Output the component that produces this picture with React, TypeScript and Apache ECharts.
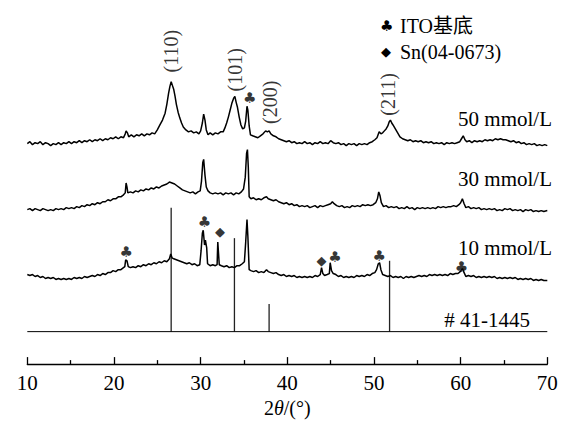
import React, { useEffect, useRef } from "react";
import * as echarts from "echarts";

// 2θ (deg) and relative intensity (offset traces, arbitrary units)
const curve50: number[][] = [[10.0,224],[10.3,226],[10.6,223],[10.9,225],[11.2,224],[11.5,226],[11.8,223],[12.1,225],[12.4,224],[12.7,222],[13.0,224],[13.3,223],[13.6,225],[13.9,223],[14.2,225],[14.5,224],[14.8,226],[15.1,224],[15.4,226],[15.7,225],[16.0,227],[16.3,225],[16.6,227],[16.9,226],[17.2,228],[17.5,226],[17.8,228],[18.1,227],[18.4,229],[18.7,227],[19.0,229],[19.3,228],[19.6,230],[19.9,229],[20.2,231],[20.5,229],[20.8,231],[21.1,230],[21.3,234],[21.4,237],[21.55,235],[21.7,231],[22.0,233],[22.3,231],[22.6,233],[22.9,232],[23.2,234],[23.5,232],[23.8,234],[24.1,233],[24.4,235],[24.7,234],[25.0,238],[25.3,243],[25.6,248],[25.9,255],[26.1,264],[26.3,275],[26.45,282],[26.6,287],[26.75,283],[26.9,279],[27.05,272],[27.2,264],[27.4,256],[27.6,250],[27.8,245],[28.0,241],[28.3,238],[28.6,236],[28.9,237],[29.2,235],[29.5,236],[29.8,234],[30.0,237],[30.2,245],[30.35,254],[30.5,248],[30.65,238],[30.85,233],[31.1,235],[31.4,233],[31.7,235],[32.0,234],[32.3,236],[32.6,236],[32.8,240],[33.0,245],[33.2,251],[33.4,258],[33.6,265],[33.8,270],[33.95,272],[34.1,266],[34.25,261],[34.45,251],[34.65,243],[34.85,239],[35.05,240],[35.2,247],[35.35,262],[35.45,258],[35.6,242],[35.75,233],[36.0,232],[36.3,231],[36.6,230],[36.9,232],[37.2,234],[37.5,237],[37.7,236],[37.9,237],[38.1,234],[38.4,232],[38.7,231],[39.0,229],[39.3,228],[39.6,227],[39.9,226],[40.2,227],[40.5,225],[40.8,226],[41.1,224],[41.4,225],[41.7,224],[42.0,226],[42.3,224],[42.6,225],[42.9,223],[43.2,225],[43.5,224],[43.8,226],[44.1,224],[44.4,225],[44.7,224],[45.0,227],[45.3,225],[45.6,224],[45.9,225],[46.2,223],[46.5,224],[46.8,222],[47.1,224],[47.4,223],[47.7,224],[48.0,222],[48.3,224],[48.6,223],[48.9,224],[49.2,223],[49.5,225],[49.8,226],[50.1,228],[50.35,230],[50.6,236],[50.8,234],[51.0,235],[51.2,237],[51.4,239],[51.6,242],[51.75,246],[51.9,248],[52.05,245],[52.2,243],[52.4,240],[52.6,237],[52.8,234],[53.0,231],[53.3,229],[53.6,228],[53.9,227],[54.2,228],[54.5,226],[54.8,227],[55.1,226],[55.4,227],[55.7,225],[56.0,226],[56.3,225],[56.6,226],[56.9,224],[57.2,225],[57.5,224],[57.8,225],[58.1,223],[58.4,225],[58.7,224],[59.0,225],[59.3,224],[59.6,225],[59.9,226],[60.1,229],[60.3,232],[60.5,228],[60.7,226],[61.0,227],[61.3,225],[61.6,227],[61.9,226],[62.2,227],[62.5,226],[62.8,228],[63.1,227],[63.4,228],[63.7,227],[64.0,229],[64.3,228],[64.6,229],[64.9,228],[65.2,228],[65.5,227],[65.8,226],[66.1,227],[66.4,225],[66.7,226],[67.0,224],[67.3,225],[67.6,223],[67.9,224],[68.2,223],[68.5,224],[68.8,222],[69.1,223],[69.4,222],[69.7,223],[70.0,222]];

const curve30: number[][] = [[10.0,157],[10.3,158],[10.6,156],[10.9,158],[11.2,157],[11.5,156],[11.8,158],[12.1,157],[12.4,156],[12.7,157],[13.0,156],[13.3,158],[13.6,157],[13.9,158],[14.2,157],[14.5,159],[14.8,158],[15.1,159],[15.4,158],[15.7,160],[16.0,159],[16.3,161],[16.6,160],[16.9,162],[17.2,161],[17.5,163],[17.8,162],[18.1,164],[18.4,163],[18.7,165],[19.0,165],[19.3,167],[19.6,166],[19.9,168],[20.2,168],[20.5,170],[20.8,170],[21.1,172],[21.3,174],[21.4,184],[21.5,180],[21.6,174],[21.9,175],[22.2,174],[22.5,176],[22.8,175],[23.1,177],[23.4,176],[23.7,178],[24.0,177],[24.3,179],[24.6,178],[24.9,180],[25.2,179],[25.5,181],[25.8,182],[26.1,183],[26.4,185],[26.7,184],[27.0,183],[27.3,181],[27.6,179],[27.9,177],[28.2,176],[28.5,175],[28.8,174],[29.1,175],[29.4,173],[29.7,175],[29.95,176],[30.1,186],[30.25,205],[30.35,208],[30.5,192],[30.65,180],[30.85,176],[31.1,174],[31.4,173],[31.7,174],[32.0,173],[32.3,174],[32.6,172],[32.9,174],[33.2,173],[33.5,174],[33.8,172],[34.1,174],[34.4,173],[34.7,175],[34.95,178],[35.15,190],[35.3,214],[35.4,218],[35.5,200],[35.6,170],[35.8,168],[36.1,169],[36.4,167],[36.7,168],[37.0,167],[37.3,169],[37.6,170],[37.8,168],[38.1,167],[38.4,166],[38.7,167],[39.0,165],[39.3,164],[39.6,163],[39.9,164],[40.2,162],[40.5,163],[40.8,161],[41.1,162],[41.4,160],[41.7,161],[42.0,160],[42.3,161],[42.6,159],[42.9,160],[43.2,161],[43.5,159],[43.8,161],[44.1,160],[44.4,161],[44.7,162],[45.0,163],[45.2,165],[45.4,163],[45.7,161],[46.0,160],[46.3,161],[46.6,159],[46.9,160],[47.2,159],[47.5,161],[47.8,160],[48.1,161],[48.4,160],[48.7,162],[49.0,161],[49.3,162],[49.6,161],[49.9,162],[50.2,164],[50.4,168],[50.55,175],[50.7,171],[50.85,164],[51.1,160],[51.4,161],[51.7,159],[52.0,160],[52.3,159],[52.6,160],[52.9,158],[53.2,159],[53.5,158],[53.8,160],[54.1,158],[54.4,159],[54.7,157],[55.0,159],[55.3,158],[55.6,159],[55.9,158],[56.2,159],[56.5,158],[56.8,159],[57.1,158],[57.4,160],[57.7,159],[58.0,160],[58.3,159],[58.6,160],[58.9,160],[59.2,161],[59.5,160],[59.8,162],[60.0,164],[60.2,168],[60.4,163],[60.6,159],[60.9,160],[61.2,158],[61.5,159],[61.8,158],[62.1,159],[62.4,157],[62.7,158],[63.0,157],[63.3,158],[63.6,157],[63.9,158],[64.2,156],[64.5,157],[64.8,156],[65.1,158],[65.4,157],[65.7,158],[66.0,156],[66.3,157],[66.6,156],[66.9,157],[67.2,155],[67.5,157],[67.8,156],[68.1,157],[68.4,155],[68.7,156],[69.0,155],[69.3,156],[69.6,155],[70.0,156]];

const curve10: number[][] = [[10.0,91],[10.3,90],[10.6,91],[10.9,89],[11.2,90],[11.5,88],[11.8,89],[12.1,87],[12.4,88],[12.7,87],[13.0,88],[13.3,86],[13.6,87],[13.9,86],[14.2,87],[14.5,86],[14.8,87],[15.1,86],[15.4,88],[15.7,87],[16.0,88],[16.3,87],[16.6,89],[16.9,88],[17.2,89],[17.5,90],[17.8,89],[18.1,91],[18.4,90],[18.7,92],[19.0,91],[19.3,93],[19.6,93],[19.9,95],[20.2,94],[20.5,96],[20.8,96],[21.1,98],[21.25,99],[21.35,106],[21.5,105],[21.65,99],[21.9,98],[22.2,99],[22.5,98],[22.8,100],[23.1,99],[23.4,101],[23.7,100],[24.0,102],[24.3,101],[24.6,103],[24.9,102],[25.2,104],[25.5,103],[25.8,105],[26.1,104],[26.4,107],[26.55,112],[26.7,108],[26.9,107],[27.2,106],[27.5,105],[27.8,104],[28.1,103],[28.4,102],[28.7,103],[29.0,101],[29.3,102],[29.6,100],[29.9,101],[30.05,115],[30.2,133],[30.3,136],[30.45,121],[30.55,126],[30.7,118],[30.8,102],[31.1,100],[31.4,101],[31.7,100],[31.9,101],[31.98,124],[32.05,124],[32.15,101],[32.4,100],[32.7,99],[33.0,100],[33.3,98],[33.6,99],[33.9,98],[34.2,100],[34.5,100],[34.8,102],[35.05,104],[35.2,124],[35.35,147],[35.45,130],[35.6,96],[35.8,95],[36.1,94],[36.4,95],[36.7,93],[37.0,94],[37.3,93],[37.6,96],[37.8,94],[38.1,93],[38.4,92],[38.7,93],[39.0,91],[39.3,90],[39.6,91],[39.9,89],[40.2,90],[40.5,89],[40.8,90],[41.1,88],[41.4,89],[41.7,88],[42.0,89],[42.3,88],[42.6,89],[42.9,88],[43.2,90],[43.5,89],[43.8,91],[43.95,98],[44.1,92],[44.3,90],[44.6,91],[44.85,92],[44.95,103],[45.1,95],[45.3,92],[45.6,91],[45.9,89],[46.2,90],[46.5,88],[46.8,89],[47.1,88],[47.4,89],[47.7,88],[48.0,90],[48.3,89],[48.6,90],[48.9,89],[49.2,91],[49.5,90],[49.8,92],[50.1,93],[50.3,96],[50.5,102],[50.65,103],[50.8,96],[51.0,91],[51.3,90],[51.6,89],[51.9,90],[52.2,88],[52.5,89],[52.8,88],[53.1,89],[53.4,87],[53.7,89],[54.0,88],[54.3,89],[54.6,88],[54.9,89],[55.2,90],[55.5,89],[55.8,90],[56.1,89],[56.4,91],[56.7,90],[57.0,91],[57.3,90],[57.6,91],[57.9,90],[58.2,91],[58.5,90],[58.8,92],[59.1,91],[59.4,92],[59.7,92],[59.95,94],[60.2,97],[60.4,93],[60.6,89],[60.9,90],[61.2,89],[61.5,90],[61.8,88],[62.1,89],[62.4,88],[62.7,89],[63.0,88],[63.3,89],[63.6,88],[63.9,89],[64.2,87],[64.5,88],[64.8,87],[65.1,88],[65.4,87],[65.7,88],[66.0,87],[66.3,88],[66.6,86],[66.9,87],[67.2,86],[67.5,87],[67.8,86],[68.1,87],[68.4,85],[68.7,86],[69.0,85],[69.3,86],[69.6,85],[70.0,85]];

// Standard card #41-1445 (SnO2) stick pattern
const refPeaks = [26.6, 33.9, 37.9, 51.8];
const refTops = [159, 128, 61, 105];
const refBase = 33;

// Annotations
const millerLabels = [
  { name: "(110)", x: 26.58, y: 318 },
  { name: "(101)", x: 34.02, y: 299 },
  { name: "(200)", x: 38.0, y: 266 },
  { name: "(211)", x: 51.6, y: 274 },
];
const clubPoints = [[21.4, 114], [30.45, 144], [35.65, 270], [45.5, 109], [50.6, 110], [60.1, 99]];
const diamondPoints = [[32.23, 135], [43.95, 105]];

const curveNames = ["50 mmol/L", "30 mmol/L", "10 mmol/L"];
const refName = "# 41-1445";
const xTicks = [10, 20, 30, 40, 50, 60, 70];

const SERIF = "'Liberation Serif', 'Times New Roman', 'Noto Sans CJK SC', serif";
const SYM = "'DejaVu Sans', sans-serif";

export default function App() {
  const ref = useRef<HTMLDivElement>(null);
  useEffect(() => {
    if (!ref.current) return;
    const chart = echarts.init(ref.current, undefined, { renderer: "svg" });
    const lineStyle = { color: "#000", width: 1.5 };
    const curveSeries = [curve50, curve30, curve10].map((d, i) => ({
      type: "line",
      name: curveNames[i],
      data: d,
      showSymbol: false,
      symbol: "none",
      lineStyle,
      silent: true,
    }));
    chart.setOption({
      animation: false,
      grid: { left: 27.3, right: 23.7, top: 0, bottom: 53 },
      xAxis: {
        type: "value",
        min: xTicks[0],
        max: xTicks[xTicks.length - 1],
        interval: 10,
        name: "2{i|θ}/(°)",
        nameLocation: "middle",
        nameGap: 31,
        nameTextStyle: {
          fontFamily: SERIF,
          fontSize: 20,
          color: "#000",
          rich: { i: { fontStyle: "italic", fontFamily: SERIF, fontSize: 20, color: "#000" } },
        },
        axisLine: { show: true, lineStyle: { color: "#000", width: 1.3 } },
        axisTick: { show: true, inside: true, length: 7, lineStyle: { color: "#000", width: 1.3 } },
        minorTick: { show: true, splitNumber: 2, length: 4, lineStyle: { color: "#000", width: 1.3 } },
        axisLabel: { color: "#000", fontFamily: SERIF, fontSize: 21, margin: 8 },
        splitLine: { show: false },
      },
      yAxis: { type: "value", min: 0, max: 370, show: false },
      series: [
        ...curveSeries,
        {
          type: "line",
          data: [[xTicks[0], refBase], [xTicks[xTicks.length - 1], refBase]],
          symbol: "none",
          lineStyle: { color: "#000", width: 1 },
          silent: true,
        },
        {
          type: "custom",
          data: refPeaks.map((x, i) => [x, refTops[i]]),
          renderItem: (params: any, api: any) => {
            const x = api.value(0);
            const top = api.value(1);
            const p1 = api.coord([x, refBase]);
            const p2 = api.coord([x, top]);
            return {
              type: "line",
              shape: { x1: p1[0], y1: p1[1], x2: p2[0], y2: p2[1] },
              style: { stroke: "#222", lineWidth: 1.3 },
            };
          },
          silent: true,
        },
        {
          type: "scatter",
          data: millerLabels.map((m) => ({ name: m.name, value: [m.x, m.y] })),
          symbolSize: 1,
          itemStyle: { color: "transparent" },
          label: {
            show: true,
            position: "inside",
            rotate: 90,
            formatter: "{b}",
            fontFamily: SERIF,
            fontSize: 20,
            color: "#000",
          },
          silent: true,
        },
        {
          type: "scatter",
          data: clubPoints,
          symbolSize: 1,
          itemStyle: { color: "transparent" },
          label: { show: true, position: "inside", formatter: "♣", fontFamily: SYM, fontSize: 15, color: "#000" },
          silent: true,
        },
        {
          type: "scatter",
          data: diamondPoints,
          symbolSize: 1,
          itemStyle: { color: "transparent" },
          label: { show: true, position: "inside", formatter: "◆", fontFamily: SYM, fontSize: 13, color: "#000" },
          silent: true,
        },
      ],
      graphic: [
        { type: "text", left: 380, top: 18, style: { text: "♣", font: `15px ${SYM}`, fill: "#000" } },
        { type: "text", left: 400, top: 16, style: { text: "ITO基底", font: `20px ${SERIF}`, fill: "#000" } },
        { type: "text", left: 381, top: 45, style: { text: "◆", font: `13px ${SYM}`, fill: "#000" } },
        { type: "text", left: 400, top: 42, style: { text: "Sn(04-0673)", font: `20px ${SERIF}`, fill: "#000" } },
        { type: "text", right: 19, top: 108, style: { text: curveNames[0], font: `21px ${SERIF}`, fill: "#000" } },
        { type: "text", right: 19, top: 168, style: { text: curveNames[1], font: `21px ${SERIF}`, fill: "#000" } },
        { type: "text", right: 19, top: 237, style: { text: curveNames[2], font: `21px ${SERIF}`, fill: "#000" } },
        { type: "text", right: 41, top: 309, style: { text: refName, font: `21px ${SERIF}`, fill: "#000" } },
      ],
    });
    return () => chart.dispose();
  }, []);
  return <div ref={ref} style={{ position: "absolute", left: 0, top: 0, width: 571, height: 423 }} />;
}
